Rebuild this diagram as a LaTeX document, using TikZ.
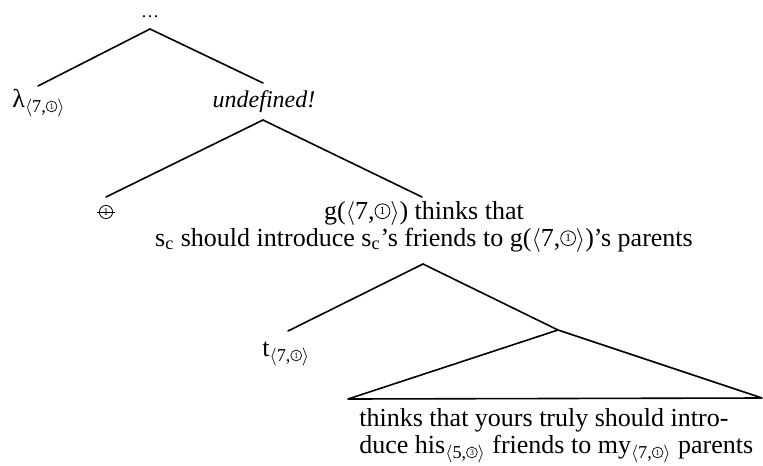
\documentclass[tikz,border=0pt]{standalone}
\usepackage{fontspec}
\setmainfont{Liberation Serif}
\usepackage{tikz}
\usetikzlibrary{positioning}
\tikzset{
  word/.style = {inner sep=0pt, font=\fontsize{13}{13.5}\selectfont},
  branch/.style = {line width=0.8pt, line cap=round},
  cnum/.style = {draw, circle, inner sep=0pt, minimum size=7.4pt,
    line width=0.4pt, font=\fontsize{5.6}{5.6}\selectfont},
  subcnum/.style = {cnum, minimum size=5.4pt, line width=0.35pt,
    font=\fontsize{4.2}{4.2}\selectfont}
}
% circled index and index pairs
\newcommand{\cnum}[2][cnum]{\tikz[baseline=(cn.south)]\node[#1] (cn) {#2};}
\newcommand{\ix}[2]{\textsubscript{$\langle$#1,\cnum[subcnum]{#2}$\rangle$}}

\begin{document}
\begin{tikzpicture}[x=0.5pt, y=-0.5pt]
  \useasboundingbox (0,0) rectangle (763,465);
  % Labels
  \node[word, anchor=base, font=\small] (dots) at (150,18) {\ldots};
  \node[word, anchor=base west] (lam) at (12,107) {λ\ix{7}{1}};
  \node[word, anchor=base, font=\fontsize{12}{13.5}\selectfont] (undef) at (264,107) {\textit{undefined!}};
  \node[cnum, minimum size=6.6pt, font=\fontsize{5.2}{5.2}\selectfont] (del) at (106,212) {1};
  \draw[line width=0.45pt] ([xshift=-1pt]del.west) -- ([xshift=1pt]del.east);
  \node[word, anchor=base, align=center] (thinks) at (424,246)
    {g($\langle$7,\cnum{1}$\rangle$) thinks that\\
     s\textsubscript{c} should introduce s\textsubscript{c}'s friends to g($\langle$7,\cnum{1}$\rangle$)'s parents};
  \node[word, anchor=base west] (trace) at (262,356) {t\ix{7}{1}};
  \node[word, anchor=base west, align=left] (rest) at (359,453)
    {thinks that yours truly should intro-\\
     duce his\ix{5}{3} friends to my\ix{7}{1} parents};
  % Branch points
  \coordinate (top) at (150,29);
  \coordinate (lamend) at (38,86);
  \coordinate (undefend) at (263,83);
  \coordinate (mid) at (263,120);
  \coordinate (delend) at (106,197);
  \coordinate (thinksend) at (422,197);
  \coordinate (low) at (423,264);
  \coordinate (traceend) at (288,331);
  \coordinate (vp) at (558,330);
  \coordinate (triL) at (348,399);
  \coordinate (triR) at (762,398);
  % Branches
  \draw[branch] (lamend) -- (top) -- (undefend);
  \draw[branch] (delend) -- (mid) -- (thinksend);
  \draw[branch] (traceend) -- (low) -- (vp);
  \draw[branch, line join=round] (vp) -- (triL) -- (triR) -- cycle;
\end{tikzpicture}
\end{document}
